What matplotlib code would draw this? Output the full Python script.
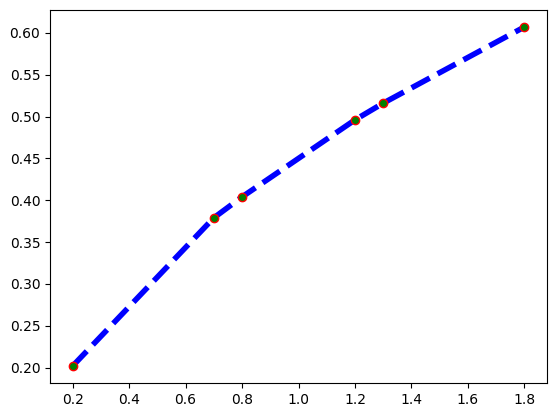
import matplotlib
matplotlib.use("Agg")
import matplotlib.pyplot as plt

# points
x_vals = [0.2, 0.7, 0.8, 1.2, 1.3, 1.8]
y_vals = [0.202, 0.379, 0.404, 0.496, 0.516, 0.607]

fig = plt.figure(figsize=(5.56, 4.13), dpi=100)
ax = fig.add_axes([50 / 556, 30 / 413, 497 / 556, 373 / 413])

# dashed blue line with green dots edged in red
ax.plot(x_vals, y_vals, color="blue", linestyle="--", linewidth=4)
ax.plot(x_vals, y_vals, linestyle="none", marker="o",
        markerfacecolor="green", markeredgecolor="red", markersize=6)

fig.savefig("out.png", dpi=100)
